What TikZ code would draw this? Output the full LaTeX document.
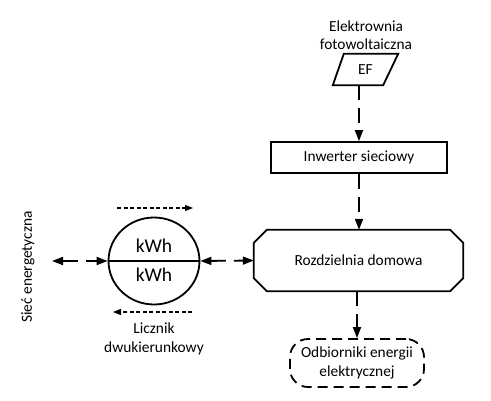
\documentclass[tikz,border=0pt]{standalone}
\usepackage{fontspec}
\setmainfont{Carlito}
\usetikzlibrary{arrows.meta,shapes.geometric,calc}
\tikzset{
  lbl/.style={font=\fontsize{15.4}{18.5}\selectfont, align=center, inner sep=0pt},
  boxst/.style={draw, line width=1.8pt, minimum width=176pt, minimum height=31pt, inner sep=0pt, font=\fontsize{15.4}{18.5}\selectfont},
  ghost/.style={inner sep=0pt, font=\fontsize{15.4}{18.5}\selectfont, align=center},
  flow/.style={line width=1.8pt, dash pattern=on 15pt off 8pt, -{Triangle[length=11pt,width=8pt]}},
  bidir/.style={line width=1.8pt, dash pattern=on 15pt off 8pt, {Triangle[length=11pt,width=8pt]}-{Triangle[length=11pt,width=8pt]}},
  dir/.style={line width=1.3pt, dash pattern=on 4pt off 2.5pt, -{Triangle[length=8pt,width=6pt]}},
}
\begin{document}
\begin{tikzpicture}[x=1pt,y=-1pt]
\useasboundingbox (0,0) rectangle (491,400);
% EF
\node[lbl] (eflbl) at (366,35) {Elektrownia\\fotowoltaiczna};
\node[ghost, minimum width=65pt, minimum height=31pt] (ef) at (365.5,69.5) {EF};
\draw[line width=1.8pt, line join=miter] ([xshift=11pt]ef.north west) -- (ef.north east) -- ([xshift=-15pt]ef.south east) -- (ef.south west) -- cycle;
% Inverter
\node[boxst] (inv) at (359,157.5) {Inwerter sieciowy};
% Rozdzielnia
\node[ghost, minimum width=209pt, minimum height=61pt] (rd) at (358.5,260.5) {Rozdzielnia domowa};
\draw[line width=1.8pt] ([xshift=13pt]rd.north west) -- ([xshift=-13pt]rd.north east) -- ([yshift=-13pt]rd.north east) -- ([yshift=13pt]rd.south east) -- ([xshift=-13pt]rd.south east) -- ([xshift=13pt]rd.south west) -- ([yshift=13pt]rd.south west) -- ([yshift=-13pt]rd.north west) -- cycle;
% Odbiorniki
\node[ghost, draw, line width=1.8pt, dash pattern=on 10pt off 6pt, rounded corners=18pt, minimum width=134pt, minimum height=48pt] (odb) at (357,363) {Odbiorniki energii\\elektrycznej};
% meter
\node[draw, ellipse, line width=1.8pt, minimum width=91pt, minimum height=87pt, inner sep=0pt] (m) at (154,261) {};
\draw[line width=1.8pt] (m.west) -- (m.east);
\node[inner sep=0pt, font=\fontsize{19.5}{22}\selectfont] (kwh1) at (154,246) {kWh};
\node[inner sep=0pt, font=\fontsize{19.5}{22}\selectfont] (kwh2) at (154,275) {kWh};
\coordinate (t1) at (117,208);
\coordinate (t2) at (193,208);
\coordinate (b1) at (192,312);
\coordinate (b2) at (113,312);
\draw[dir] (t1) -- (t2);
\draw[dir] (b1) -- (b2);
\node[lbl] (lic) at (154,339) {Licznik\\dwukierunkowy};
% grid
\node[lbl, rotate=90] (siec) at (28,267) {Sieć energetyczna};
\coordinate (gl) at (52,261);
% connectors
\draw[flow] (ef.south -| inv.north) -- (inv.north);
\draw[flow] (inv.south) -- (inv.south |- rd.north);
\draw[flow] (rd.south -| odb.north) -- (odb.north);
\draw[bidir] (gl) -- (m.west);
\draw[bidir] (m.east) -- (rd.west);
\end{tikzpicture}
\end{document}
